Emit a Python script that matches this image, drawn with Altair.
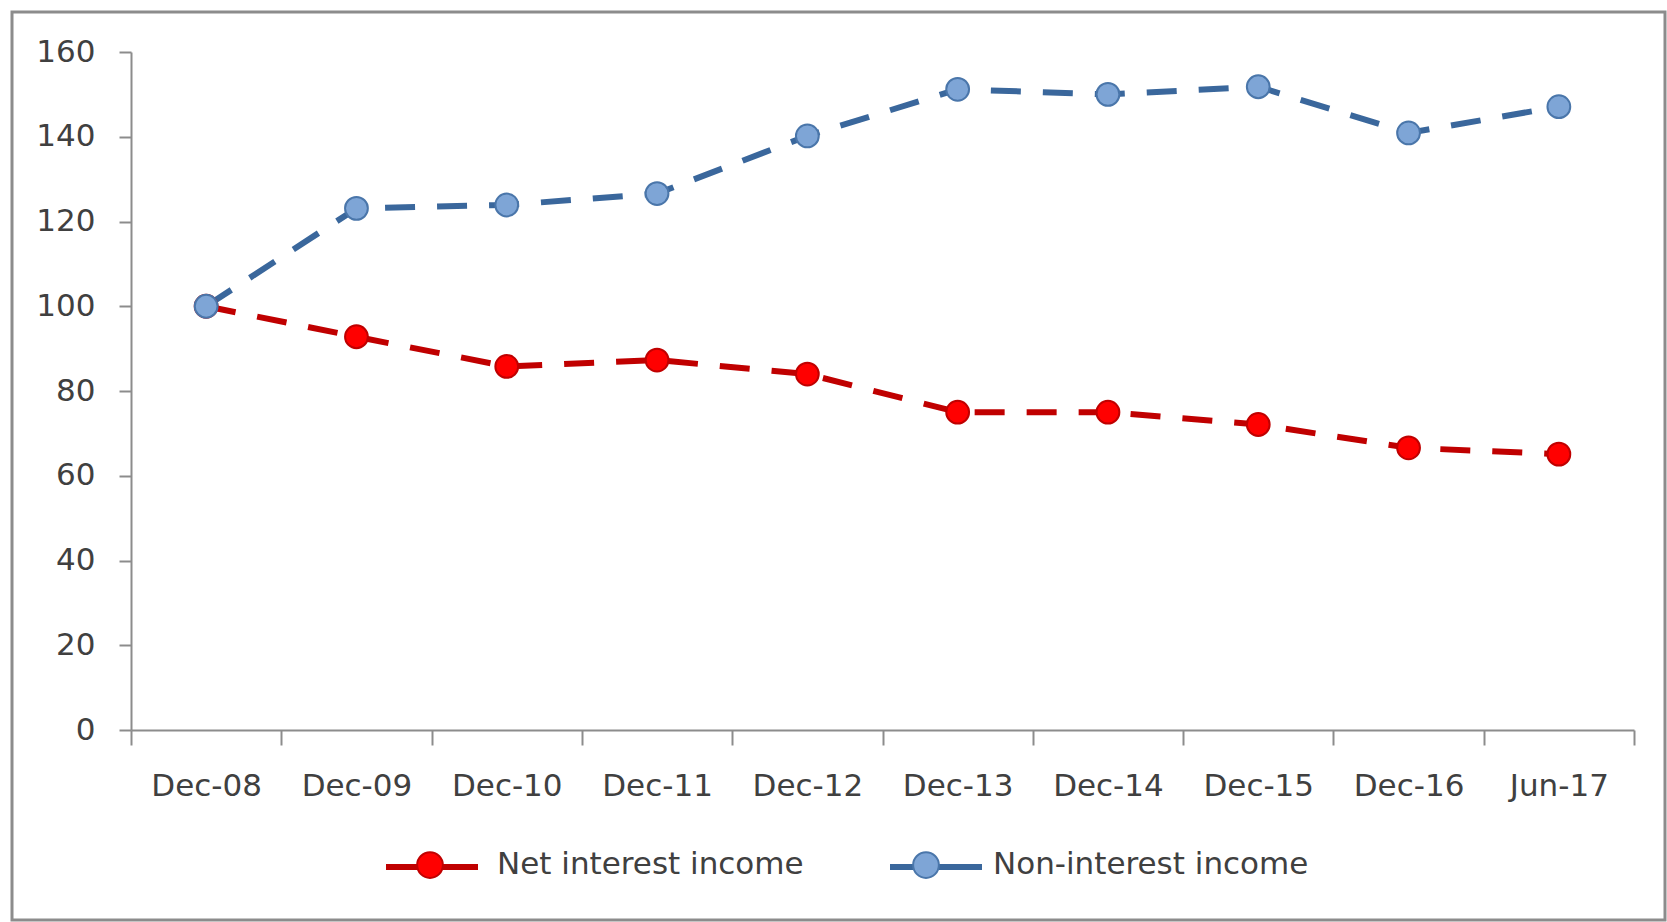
import altair as alt
import pandas as pd

categories = ["Dec-08", "Dec-09", "Dec-10", "Dec-11", "Dec-12",
              "Dec-13", "Dec-14", "Dec-15", "Dec-16", "Jun-17"]
net_interest = [100, 92.8, 85.8, 87.3, 84.0, 75.0, 75.0, 72.1, 66.6, 65.1]
non_interest = [100, 123.1, 123.9, 126.6, 140.2, 151.2, 150.0, 151.8, 140.9, 147.1]
series_names = ["Net interest income", "Non-interest income"]

line_colors = ["#C00000", "#3A679C"]
fill_colors = ["#FF0000", "#7EA5D6"]
stroke_colors = ["#C00000", "#4A76AA"]

rows = []
for name, vals in zip(series_names, [net_interest, non_interest]):
    for c, v in zip(categories, vals):
        rows.append({"period": c, "series": name, "series_line": name, "value": v})
df = pd.DataFrame(rows)

FONT = "DejaVu Sans"
TXT = "#404040"
AX = "#8C8C8C"

x = alt.X("period:N", sort=categories,
          scale=alt.Scale(type="band", paddingInner=0, paddingOuter=0),
          axis=alt.Axis(title=None, tickBand="extent", labelAngle=0, tickSize=15,
                        labelPadding=26, labelFontSize=31, labelFont=FONT,
                        labelColor=TXT, domainColor=AX, tickColor=AX,
                        domainWidth=2, tickWidth=2, grid=False))
y = alt.Y("value:Q", scale=alt.Scale(domain=[0, 160], nice=False, zero=True),
          axis=alt.Axis(title=None, values=list(range(0, 161, 20)), tickSize=12,
                        labelPadding=24, labelFontSize=31, labelFont=FONT,
                        labelColor=TXT, domainColor=AX, tickColor=AX,
                        domainWidth=2, tickWidth=2, grid=False))

common_legend = dict(orient="none", legendX=252, legendY=766, direction="horizontal",
                     title=None, symbolSize=8464, labelFontSize=31, labelFont=FONT,
                     labelColor=TXT, labelLimit=700, padding=0)

# line part of the legend symbols (no labels; spacing matched to the labelled legend)
line_legend = alt.Legend(symbolType="M-1,0H1", symbolStrokeWidth=6, labelExpr="''",
                         labelOffset=0, columnPadding=388, zindex=0,
                         symbolFillColor="transparent", **common_legend)
point_legend = alt.Legend(
    symbolType="M-0.28,0A0.28,0.28 0 1,1 0.28,0A0.28,0.28 0 1,1 -0.28,0Z",
    symbolStrokeWidth=2, labelOffset=20, columnPadding=75, zindex=1, **common_legend)

lines = alt.Chart(df).mark_line(strokeWidth=6, strokeDash=[30, 22]).encode(
    x=x, y=y,
    color=alt.Color("series_line:N",
                    scale=alt.Scale(domain=series_names, range=line_colors),
                    legend=line_legend),
    detail="series:N",
)

points = alt.Chart(df).mark_point(filled=True, size=520, opacity=1, strokeWidth=2,
                                  shape="circle").encode(
    x=x, y=y,
    fill=alt.Fill("series:N", scale=alt.Scale(domain=series_names, range=fill_colors),
                  legend=point_legend),
    stroke=alt.Stroke("series:N", scale=alt.Scale(domain=series_names, range=stroke_colors),
                      legend=point_legend),
)

border = alt.Chart(pd.DataFrame({"a": [0]})).mark_rect(
    filled=False, stroke="#8C8C8C", strokeWidth=3).encode(
    x=alt.value(-119), x2=alt.value(1534), y=alt.value(-40), y2=alt.value(868))

chart = alt.layer(border, lines, points).resolve_scale(
    color="independent"
).properties(
    width=1503, height=678,
    autosize=alt.AutoSizeParams(type="none"),
    padding={"left": 131, "top": 52, "right": 33, "bottom": 192},
    background="white",
).configure_view(stroke=None)

chart.save("out.html", embed_options={"renderer": "svg", "actions": False})
